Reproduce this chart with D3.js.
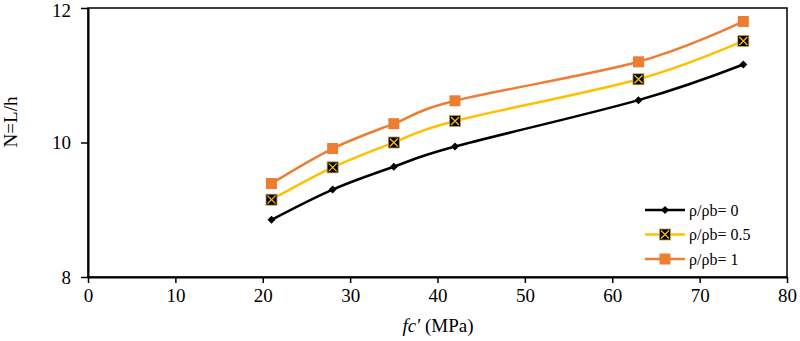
<!DOCTYPE html>
<html>
<head>
<meta charset="utf-8">
<script src="https://cdn.jsdelivr.net/npm/d3@7"></script>
<style>
body { margin: 0; background: #fff; }
svg text { font-family: "Liberation Serif", "Times New Roman", serif; }
</style>
</head>
<body>
<div id="chart"></div>
<script>
// data
var fc = [21, 28, 35, 42, 63, 75];
var rho0 = [8.85, 9.30, 9.64, 9.94, 10.63, 11.16];
var rho05 = [9.15, 9.63, 10.00, 10.32, 10.94, 11.51];
var rho1 = [9.39, 9.91, 10.28, 10.62, 11.20, 11.80];
var seriesNames = ["\u03c1/\u03c1b= 0", "\u03c1/\u03c1b= 0.5", "\u03c1/\u03c1b= 1"];
var xTicks = [0, 10, 20, 30, 40, 50, 60, 70, 80];
var yTicks = [8, 10, 12];

var width = 800, height = 341;
var margin = {left: 88, right: 13, top: 8, bottom: 64};
var serif = "'Liberation Serif', 'Times New Roman', serif";

var svg = d3.select("#chart").append("svg")
  .attr("width", width)
  .attr("height", height)
  .attr("font-family", serif);

var x = d3.scaleLinear().domain([0, 80]).range([margin.left, width - margin.right]);
var y = d3.scaleLinear().domain([8, 12]).range([height - margin.bottom, margin.top]);

// frame
svg.append("rect")
  .attr("x", x(0)).attr("y", y(12))
  .attr("width", x(80) - x(0)).attr("height", y(8) - y(12))
  .style("fill", "none").style("stroke", "#000").style("stroke-width", 1.5);

var xAxis = svg.append("g")
  .attr("transform", "translate(0," + y(8) + ")")
  .call(d3.axisBottom(x).tickValues(xTicks).tickFormat(d3.format("d"))
    .tickSize(6).tickSizeOuter(0).tickPadding(6));
var yAxis = svg.append("g")
  .attr("transform", "translate(" + x(0) + ",0)")
  .call(d3.axisLeft(y).tickValues(yTicks).tickFormat(d3.format("d"))
    .tickSize(7).tickSizeOuter(0).tickPadding(10));

[xAxis, yAxis].forEach(function(g) {
  g.attr("font-family", serif).attr("font-size", 19);
  g.select(".domain").style("stroke", "#000").style("stroke-width", 2);
  g.selectAll(".tick line").style("stroke", "#000").style("stroke-width", 1.5);
  g.selectAll(".tick text").style("fill", "#000");
});
// keep the top label inside the page
yAxis.selectAll(".tick text").filter(function(d) { return d === 12; }).attr("dy", "0.45em");

// axis titles
svg.append("text")
  .attr("transform", "translate(17,122) rotate(-90)")
  .attr("text-anchor", "middle")
  .style("font-size", "19px")
  .text("N=L/h");

var xt = svg.append("text")
  .attr("x", x(40) + 0.5).attr("y", 332)
  .attr("text-anchor", "middle")
  .style("font-size", "19px");
xt.append("tspan").style("font-style", "italic").text("fc\u2032");
xt.append("tspan").text(" (MPa)");

var line = d3.line()
  .x(function(d) { return x(d[0]); })
  .y(function(d) { return y(d[1]); })
  .curve(d3.curveCardinal.tension(0));

var series = [
  {name: seriesNames[0], values: rho0, color: "#000000", marker: "diamond"},
  {name: seriesNames[1], values: rho05, color: "#FFC000", marker: "xbox"},
  {name: seriesNames[2], values: rho1, color: "#ED7D31", marker: "square"}
];

function drawMarker(g, type, color) {
  if (type === "diamond") {
    g.append("path").attr("d", "M0,-4L4,0L0,4L-4,0Z").style("fill", "#000");
  } else if (type === "xbox") {
    g.append("rect").attr("x", -5.5).attr("y", -5.5).attr("width", 11).attr("height", 11)
      .style("fill", "#000").style("stroke", "#b8a060").style("stroke-width", 0.8);
    g.append("path").attr("d", "M-4,-4L4,4M4,-4L-4,4")
      .style("stroke", color).style("stroke-width", 1.3);
  } else {
    g.append("rect").attr("x", -5.5).attr("y", -5.5).attr("width", 11).attr("height", 11)
      .style("fill", color);
  }
}

series.forEach(function(s) {
  var pts = fc.map(function(v, i) { return [v, s.values[i]]; });
  svg.append("path")
    .datum(pts)
    .attr("d", line)
    .style("fill", "none")
    .style("stroke", s.color)
    .style("stroke-width", 2.5);
  svg.selectAll(null)
    .data(pts)
    .enter()
    .append("g")
    .attr("transform", function(d) { return "translate(" + x(d[0]) + "," + y(d[1]) + ")"; })
    .each(function() { drawMarker(d3.select(this), s.marker, s.color); });
});

// legend
var legend = svg.append("g").attr("transform", "translate(645,210)");
series.forEach(function(s, i) {
  var row = legend.append("g").attr("transform", "translate(0," + (i * 24.5) + ")");
  row.append("line").attr("x1", 0).attr("x2", 40).attr("y1", 0).attr("y2", 0)
    .style("stroke", s.color).style("stroke-width", 2.5);
  var m = row.append("g").attr("transform", "translate(20,0)");
  drawMarker(m, s.marker, s.color);
  row.append("text").attr("x", 44).attr("y", 5.5)
    .style("font-size", "16px")
    .text(s.name);
});
</script>
</body>
</html>
